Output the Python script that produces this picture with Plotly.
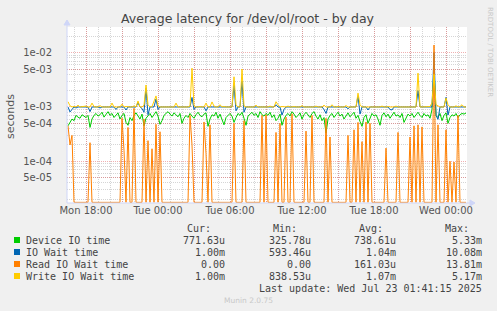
import plotly.graph_objects as go
import pandas as pd

# ---------------- data (microseconds), one sample every 10 minutes ----------------
start_time = "2025-07-21 16:30"
n_samples = 200

device_io_us = [
    450, 520, 600, 560, 700, 650, 620, 720, 680, 640,
    700, 420, 600, 700, 760, 680, 720, 800, 650, 740,
    820, 700, 760, 640, 720, 780, 600, 700, 760, 520,
    460, 640, 560, 700, 780, 690, 600, 740, 450, 620,
    700, 760, 640, 720, 820, 680, 480, 560, 700, 760,
    820, 740, 680, 780, 720, 660, 760, 500, 620, 700,
    640, 760, 680, 620, 720, 800, 700, 660, 740, 780,
    440, 600, 720, 680, 800, 620, 740, 560, 470, 640,
    700, 760, 680, 520, 640, 760, 700, 800, 620, 460,
    680, 740, 800, 700, 760, 640, 820, 720, 680, 760,
    700, 800, 640, 720, 560, 620, 740, 460, 600, 700,
    760, 680, 820, 740, 640, 700, 780, 600, 720, 800,
    700, 640, 760, 820, 680, 600, 720, 560, 640, 330,
    600, 700, 760, 640, 720, 800, 680, 740, 600, 700,
    780, 660, 720, 800, 620, 700, 540, 440, 640, 720,
    500, 640, 760, 680, 720, 600, 460, 700, 780, 660,
    740, 620, 700, 800, 680, 720, 640, 760, 520, 640,
    740, 680, 760, 640, 720, 800, 700, 640, 760, 680,
    720, 620, 900, 5330, 700, 640, 760, 560, 700, 780,
    500, 640, 720, 680, 760, 640, 720, 760, 740, 772,
]

io_wait_us = [
    1000, 810, 900, 1000, 960, 1000, 1000, 1000, 1000, 1000,
    1000, 820, 1000, 1000, 1000, 1000, 960, 1000, 1000, 1000,
    1000, 1000, 1000, 1000, 900, 1000, 1000, 1000, 1000, 880,
    1000, 1000, 1000, 1000, 1000, 1200, 1000, 940, 800, 2200,
    720, 1000, 1000, 1000, 1400, 900, 1000, 1000, 1000, 1000,
    1000, 1000, 1000, 1000, 1000, 1000, 1000, 1000, 1000, 1000,
    1000, 1000, 1500, 900, 1000, 1000, 1000, 1000, 1000, 850,
    1000, 1000, 1000, 1000, 1000, 1000, 1000, 1000, 1000, 1000,
    1000, 1000, 1000, 2500, 850, 1000, 1000, 3000, 800, 1000,
    1000, 1000, 1000, 1000, 1000, 1000, 1000, 1000, 1000, 1000,
    1000, 1000, 1000, 1000, 1100, 1000, 1000, 710, 900, 1000,
    1000, 1000, 1000, 1000, 1000, 1000, 1000, 1000, 1000, 1000,
    1000, 1000, 1000, 1000, 1000, 1000, 1000, 1000, 900, 760,
    1000, 1000, 1000, 1000, 1000, 1000, 1000, 1000, 1000, 1000,
    930, 1000, 1000, 1000, 1000, 1600, 740, 1000, 1000, 1000,
    880, 1000, 1000, 1000, 1000, 1000, 1000, 1000, 1000, 1000,
    1000, 900, 880, 1000, 1000, 1000, 1000, 1000, 1000, 1000,
    1000, 1000, 1000, 1000, 1000, 2000, 1000, 1000, 1000, 1000,
    1000, 1000, 1000, 10080, 700, 593, 1000, 1000, 1000, 1500,
    710, 1000, 1000, 1000, 1000, 1000, 1000, 1000, 1000, 1000,
]

read_wait_us = [
    450, 200, 300, 0, 0, 0, 0, 0, 0, 0,
    0, 220, 0, 0, 0, 0, 0, 0, 0, 0,
    0, 0, 0, 0, 0, 0, 0, 620, 160, 0,
    420, 0, 0, 950, 0, 0, 0, 0, 600, 0,
    240, 0, 170, 0, 480, 0, 350, 0, 0, 0,
    0, 0, 0, 0, 0, 0, 0, 0, 0, 0,
    0, 700, 200, 0, 0, 0, 0, 0, 530, 140,
    0, 470, 0, 0, 0, 0, 0, 0, 0, 0,
    0, 0, 0, 500, 0, 0, 0, 0, 560, 0,
    0, 0, 0, 0, 0, 0, 0, 700, 0, 720,
    0, 0, 0, 0, 340, 0, 500, 0, 0, 650,
    0, 0, 750, 0, 0, 0, 0, 0, 0, 360,
    0, 0, 700, 0, 0, 0, 0, 0, 0, 620,
    0, 280, 0, 0, 0, 0, 0, 0, 0, 0,
    300, 0, 0, 380, 0, 520, 0, 230, 0, 530,
    0, 500, 0, 0, 0, 0, 0, 0, 0, 175,
    0, 0, 0, 0, 0, 340, 0, 0, 0, 0,
    0, 280, 0, 450, 0, 470, 0, 430, 0, 0,
    0, 0, 0, 13810, 0, 470, 0, 0, 0, 380,
    0, 100, 0, 97, 0, 700, 0, 0, 0, 0,
]

write_wait_us = [
    1250, 1050, 1000, 1020, 1000, 1080, 1000, 1010, 1000, 1040,
    1000, 1000, 1180, 1020, 1000, 1000, 1060, 1000, 1000, 1000,
    1020, 1000, 1180, 1000, 1000, 1010, 1000, 1130, 1000, 1020,
    1000, 1000, 1000, 1050, 1000, 1290, 1000, 1000, 1080, 2540,
    1100, 1000, 1020, 1300, 1600, 1050, 1000, 1000, 1000, 1020,
    1000, 1000, 1000, 1000, 1180, 1000, 1000, 1000, 1020, 1000,
    1000, 1040, 5170, 1050, 1000, 1000, 1020, 1000, 1000, 1180,
    1000, 1000, 1240, 1040, 1000, 1000, 1100, 1000, 1020, 1000,
    1000, 1000, 1000, 3600, 1100, 1000, 1000, 5000, 1050, 1000,
    1000, 1020, 1000, 1000, 1080, 1000, 1000, 1000, 1000, 1020,
    1000, 1040, 1000, 1000, 1250, 1100, 1000, 1020, 1000, 1000,
    1040, 1000, 1000, 1020, 1000, 1000, 1000, 1060, 1000, 1000,
    1000, 1020, 1000, 1000, 1040, 1000, 1000, 1000, 1080, 1000,
    1000, 1000, 1100, 1000, 1000, 1020, 1000, 1000, 1000, 1060,
    1000, 1000, 1000, 1020, 1000, 1800, 1100, 1000, 1000, 1000,
    1000, 1000, 1020, 1000, 1000, 1000, 1000, 1040, 1000, 1000,
    1020, 1000, 1000, 1000, 1040, 1000, 1000, 1000, 1000, 1020,
    1000, 1000, 1000, 1000, 1000, 4200, 1000, 1000, 1000, 1000,
    1000, 1020, 1200, 4000, 1100, 1040, 1000, 1000, 1000, 1460,
    1100, 1000, 1000, 1000, 1050, 1000, 1020, 1100, 1000, 1000,
]

series_names = ["Device IO time", "IO Wait time", "Read IO Wait time", "Write IO Wait time"]
series_colors = ["#00CC00", "#0066B3", "#FF8000", "#FFCC00"]
series_values = [device_io_us, io_wait_us, read_wait_us, write_wait_us]

legend_cur = ["771.63u", "1.00m", "0.00", "1.00m"]
legend_min = ["325.78u", "593.46u", "0.00", "838.53u"]
legend_avg = ["738.61u", "1.04m", "161.03u", "1.07m"]
legend_max = ["5.33m", "10.08m", "13.81m", "5.17m"]

title_text = "Average latency for /dev/ol/root - by day"
y_title = "seconds"
last_update = "Last update: Wed Jul 23 01:41:15 2025"
footer = "Munin 2.0.75"
side_text = "RRDTOOL / TOBI OETIKER"

x_range = ["2025-07-21 16:25", "2025-07-23 01:45"]
x_major_ticks = ["2025-07-21 18:00", "2025-07-21 21:00", "2025-07-22 00:00", "2025-07-22 03:00",
                 "2025-07-22 06:00", "2025-07-22 09:00", "2025-07-22 12:00", "2025-07-22 15:00",
                 "2025-07-22 18:00", "2025-07-22 21:00", "2025-07-23 00:00"]
x_tick_labels = ["Mon 18:00", "", "Tue 00:00", "", "Tue 06:00", "", "Tue 12:00", "",
                 "Tue 18:00", "", "Wed 00:00"]
y_tick_vals = [5e-5, 1e-4, 5e-4, 1e-3, 5e-3, 1e-2]
y_tick_labels = ["5e-05", "1e-04", "5e-04", "1e-03", "5e-03", "1e-02"]
y_log_range = [-4.768, -1.527]

# ---------------- figure ----------------
W, H = 497, 311
L, R, T, B = 67, 467, 27, 203  # plot area in pixels


def px(x):
    return (x - L) / (R - L)


def py(y):
    return (B - y) / (B - T)


times = pd.date_range(start_time, periods=n_samples, freq="10min")
floor_val = 10 ** (y_log_range[0] + 0.012)

fig = go.Figure()
for name, color, vals in zip(series_names, series_colors, series_values):
    yv = [v * 1e-6 if v > 0 else floor_val for v in vals]
    fig.add_trace(go.Scatter(x=times, y=yv, mode="lines", name=name,
                             line=dict(color=color, width=1), showlegend=False))

minor_y = []
for e in range(-5, -1):
    for m in range(2, 10):
        minor_y.append(m * 10 ** e)

grid_major = "rgba(222,79,79,0.45)"
grid_minor = "rgba(150,150,150,0.4)"
font_col = "#555555"

fig.update_layout(
    width=W, height=H,
    margin=dict(l=L, r=W - R, t=T, b=H - B),
    paper_bgcolor="#F0F0F0", plot_bgcolor="#FFFFFF",
    font=dict(family="DejaVu Sans", color=font_col, size=10),
    xaxis=dict(type="date", range=x_range, tickmode="array", tickvals=x_major_ticks,
               ticktext=x_tick_labels, showgrid=True, gridcolor=grid_major, griddash="1px,1px",
               gridwidth=1, zeroline=False, showline=False, ticks="",
               tickfont=dict(size=10, color=font_col),
               minor=dict(dtick=3600000, tick0="2025-07-21 00:00", showgrid=True,
                          gridcolor=grid_minor, griddash="1px,1px", gridwidth=1, ticks="")),
    yaxis=dict(type="log", range=y_log_range, tickmode="array", tickvals=y_tick_vals,
               ticktext=y_tick_labels, showgrid=True, gridcolor=grid_major, griddash="1px,1px",
               gridwidth=1, zeroline=False, showline=False, ticks="", ticklabelstandoff=14,
               tickfont=dict(size=10, color=font_col),
               minor=dict(tickmode="array", tickvals=minor_y, showgrid=True,
                          gridcolor=grid_minor, griddash="1px,1px", gridwidth=1, ticks="")),
)

axis_col = "#CFD6F8"
# axes with arrows
fig.add_shape(type="line", xref="paper", yref="paper", x0=px(L), x1=px(471), y0=py(B), y1=py(B),
              line=dict(color=axis_col, width=1))
fig.add_shape(type="line", xref="paper", yref="paper", x0=px(L), x1=px(L), y0=py(B), y1=py(24),
              line=dict(color=axis_col, width=1))
fig.add_shape(type="path", xref="paper", yref="paper",
              path=f"M {px(470)} {py(200)} L {px(475)} {py(B)} L {px(470)} {py(206)} Z",
              fillcolor=axis_col, line=dict(color=axis_col, width=1))
fig.add_shape(type="path", xref="paper", yref="paper",
              path=f"M {px(64)} {py(25)} L {px(L)} {py(20)} L {px(70)} {py(25)} Z",
              fillcolor=axis_col, line=dict(color=axis_col, width=1))

annos = []
annos.append(dict(text=title_text, x=px(248), y=py(18), xanchor="center", yanchor="middle",
                  font=dict(size=12.5, color="#444444", family="DejaVu Sans")))
annos.append(dict(text=y_title, x=px(11), y=py(116), xanchor="center", yanchor="middle",
                  textangle=-90, font=dict(size=11, color=font_col, family="DejaVu Sans")))
annos.append(dict(text=side_text, x=px(490), y=py(6), xanchor="center", yanchor="top",
                  textangle=90, font=dict(size=7, color="#C8C8C8", family="DejaVu Sans")))
annos.append(dict(text=footer, x=px(248), y=py(300), xanchor="center", yanchor="middle",
                  font=dict(size=7.5, color="#C8C8C8", family="DejaVu Sans")))

mono = dict(family="DejaVu Sans Mono", size=10, color="#444444")
headers = ["Cur:", "Min:", "Avg:", "Max:"]
header_right = [212, 298, 384, 470]
value_right = [226, 312, 397, 483]
for h, xr in zip(headers, header_right):
    annos.append(dict(text=h, x=px(xr), y=py(228), xanchor="right", yanchor="middle", font=mono))

row_y = [240, 252, 264, 276]
cols = [legend_cur, legend_min, legend_avg, legend_max]
for i, name in enumerate(series_names):
    yy = row_y[i]
    fig.add_shape(type="rect", xref="paper", yref="paper", x0=px(14), x1=px(20),
                  y0=py(yy - 3), y1=py(yy + 3), fillcolor=series_colors[i], line=dict(width=0))
    annos.append(dict(text=name, x=px(25), y=py(yy), xanchor="left", yanchor="middle", font=mono))
    for c, xr in zip(cols, value_right):
        annos.append(dict(text=c[i], x=px(xr), y=py(yy), xanchor="right", yanchor="middle", font=mono))

annos.append(dict(text=last_update, x=px(483), y=py(288), xanchor="right", yanchor="middle", font=mono))

for a in annos:
    a.update(xref="paper", yref="paper", showarrow=False, borderpad=0)
fig.update_layout(annotations=annos)

fig.write_html("out.html")
